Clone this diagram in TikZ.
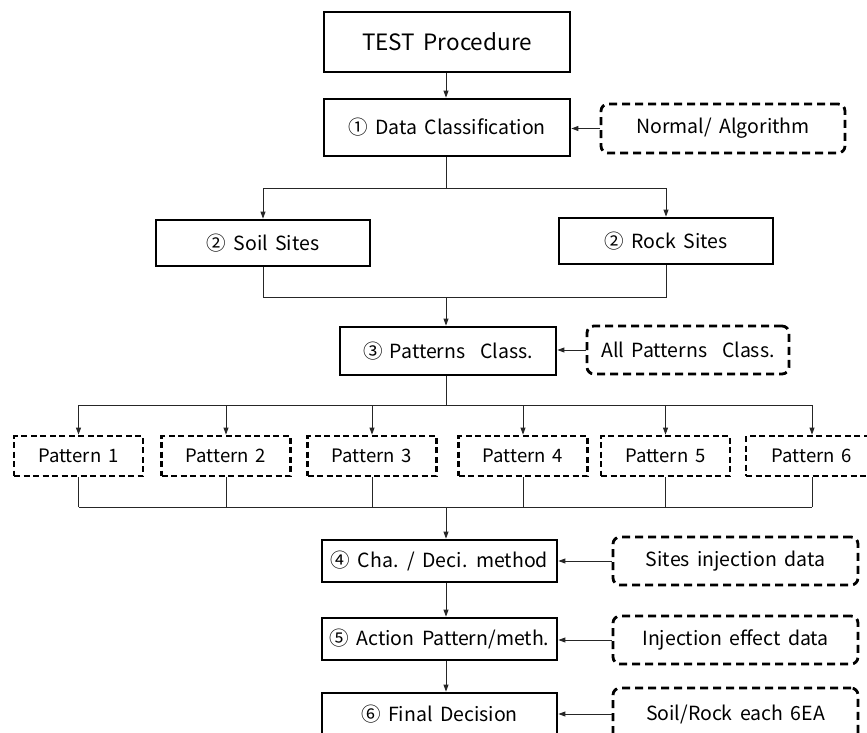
\documentclass[tikz,border=0pt]{standalone}
\usepackage{fontspec}
\setmainfont[WordSpace=1.7]{Noto Sans CJK KR}
\usetikzlibrary{arrows.meta}
\tikzset{
  mainbox/.style={draw, line width=2.8pt, inner sep=0pt, align=center, font=\fontsize{19.5}{22}\selectfont},
  sidebox/.style={draw, line width=2.8pt, dash pattern=on 8pt off 5pt, rounded corners=7pt, inner sep=0pt, align=center, font=\fontsize{19.5}{22}\selectfont},
  patbox/.style={draw, line width=2.8pt, dash pattern=on 6pt off 3.5pt, inner sep=0pt, align=center, minimum width=129pt, minimum height=40pt, font=\fontsize{18.5}{20}\selectfont},
  conn/.style={line width=0.9pt, draw=black!85},
  arr/.style={conn, -{Triangle[length=7pt,width=5pt]}},
}
\begin{document}
\begin{tikzpicture}[x=1pt,y=-1pt]
\clip (0,0) rectangle (867,733);
\useasboundingbox (0,0) rectangle (867,733);
% main column
\node[mainbox, minimum width=246pt, minimum height=60pt, font=\fontsize{22.5}{25}\selectfont] (test) at (447,42) {TEST Procedure};
\node[mainbox, minimum width=246pt, minimum height=57pt] (dc) at (447,127.5) {① Data Classification};
\node[sidebox, minimum width=244pt, minimum height=49pt] (na) at (723,128.5) {Normal/ Algorithm};
\node[mainbox, minimum width=214pt, minimum height=46pt] (soil) at (263,243) {② Soil Sites};
\node[mainbox, minimum width=214pt, minimum height=46pt] (rock) at (666,241) {② Rock Sites};
\node[mainbox, minimum width=216pt, minimum height=48pt] (pc) at (448,351) {③ Patterns\ \ Class.};
\node[sidebox, minimum width=202pt, minimum height=48pt] (apc) at (688,350) {All Patterns\ \ Class.};
% patterns
\node[patbox] (p1) at (78.5,456) {Pattern 1};
\node[patbox] (p2) at (226,456) {Pattern 2};
\node[patbox] (p3) at (372,456) {Pattern 3};
\node[patbox] (p4) at (523,456) {Pattern 4};
\node[patbox] (p5) at (665.5,456) {Pattern 5};
\node[patbox, minimum width=132pt] (p6) at (812,456) {Pattern 6};
% lower column
\node[mainbox, minimum width=235pt, minimum height=42pt] (cd) at (439.5,561) {④ Cha. / Deci. method};
\node[sidebox, minimum width=245pt, minimum height=48pt] (sid) at (735.5,561) {Sites injection data};
\node[mainbox, minimum width=235pt, minimum height=42pt] (ap) at (439.5,639) {⑤ Action Pattern/meth.};
\node[sidebox, minimum width=245pt, minimum height=48pt] (ied) at (735.5,640) {Injection effect data};
\node[mainbox, minimum width=235pt, minimum height=42pt] (fd) at (439.5,714) {⑥ Final Decision};
\node[sidebox, minimum width=245pt, minimum height=52pt] (sr) at (735.5,714) {Soil/Rock each 6EA};
% junction coordinates
\coordinate (j1) at (446,188);
\coordinate (j2) at (446,297);
\coordinate (j3) at (446,405);
\coordinate (j4) at (446,507);
% connectors
\draw[arr] (test.south -| j1) -- (dc.north -| j1);
\draw[arr] (na.west) -- (dc.east |- na.west);
\draw[conn] (dc.south -| j1) -- (j1);
\draw[arr] (j1) -| (soil.north);
\draw[arr] (j1) -| (rock.north);
\draw[conn] (soil.south) |- (j2);
\draw[conn] (rock.south) |- (j2);
\draw[arr] (j2) -- (pc.north -| j2);
\draw[arr] (apc.west) -- (pc.east |- apc.west);
\draw[conn] (pc.south -| j3) -- (j3);
\draw[conn] (p1.north |- j3) -- (p6.north |- j3);
\foreach \p in {p1,p2,p3,p4,p5,p6} {
  \draw[arr] (\p.north |- j3) -- (\p.north);
  \draw[conn] (\p.south) -- (\p.south |- j4);
}
\draw[conn] (p1.south |- j4) -- (p6.south |- j4);
\draw[arr] (j4) -- (cd.north -| j4);
\draw[arr] (sid.west) -- (cd.east |- sid.west);
\draw[arr] (cd.south -| j4) -- (ap.north -| j4);
\draw[arr] (ied.west) -- (ap.east |- ied.west);
\draw[arr] (ap.south -| j4) -- (fd.north -| j4);
\draw[arr] (sr.west) -- (fd.east |- sr.west);
\end{tikzpicture}
\end{document}
